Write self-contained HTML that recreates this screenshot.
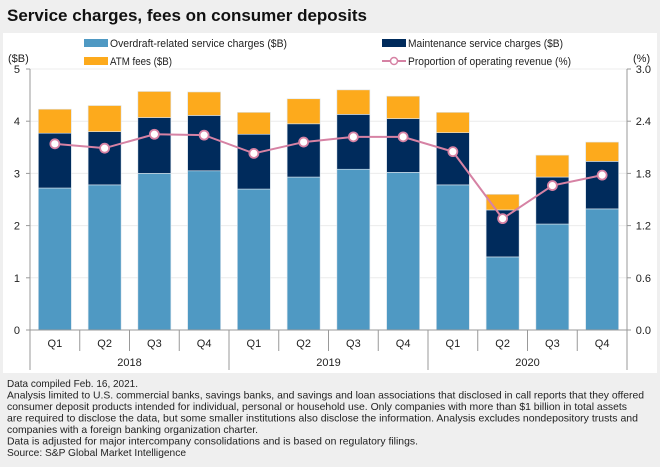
<!DOCTYPE html>
<html><head><meta charset="utf-8"><style>
html,body{margin:0;padding:0;background:#efefef;}
svg{display:block;font-family:"Liberation Sans",sans-serif;}
</style></head><body>
<svg id="chart" width="660" height="467" viewBox="0 0 660 467">
<rect x="0" y="0" width="660" height="467" fill="#efefef"/>
<text x="7" y="21" font-family="Liberation Sans, sans-serif" font-weight="bold" font-size="17" fill="#111">Service charges, fees on consumer deposits</text>
<rect x="3" y="33" width="654" height="340" fill="#fff"/>
<g font-size="11" fill="#222">
<rect x="84" y="39" width="24" height="8" fill="#4f99c3"/>
<text x="110" y="47" textLength="177" lengthAdjust="spacingAndGlyphs">Overdraft-related service charges ($B)</text>
<rect x="382" y="39" width="24" height="8" fill="#002b5c"/>
<text x="408" y="47" textLength="155" lengthAdjust="spacingAndGlyphs">Maintenance service charges ($B)</text>
<rect x="84" y="57" width="24" height="8" fill="#fdaa1c"/>
<text x="110" y="65" textLength="62" lengthAdjust="spacingAndGlyphs">ATM fees ($B)</text>
<line x1="382" y1="61" x2="406" y2="61" stroke="#d682a4" stroke-width="2"/>
<circle cx="394" cy="61" r="3.5" fill="#fff" stroke="#d682a4" stroke-width="1.5"/>
<text x="408" y="65" textLength="163" lengthAdjust="spacingAndGlyphs">Proportion of operating revenue (%)</text>
</g>
<text x="8" y="62" font-size="11" fill="#222">($B)</text>
<text x="633" y="62" font-size="11" fill="#222">(%)</text>
<g id="grid"></g><g id="bars"></g><g id="axes"></g><g id="line"></g>
<g font-size="10.5" fill="#222">
<text x="7" y="387" textLength="131" lengthAdjust="spacingAndGlyphs">Data compiled Feb. 16, 2021.</text>
<text x="7" y="398.5" textLength="637" lengthAdjust="spacingAndGlyphs">Analysis limited to U.S. commercial banks, savings banks, and savings and loan associations that disclosed in call reports that they offered</text>
<text x="7" y="410" textLength="620" lengthAdjust="spacingAndGlyphs">consumer deposit products intended for individual, personal or household use. Only companies with more than $1 billion in total assets</text>
<text x="7" y="421.5" textLength="631" lengthAdjust="spacingAndGlyphs">are required to disclose the data, but some smaller institutions also disclose the information. Analysis excludes nondepository trusts and</text>
<text x="7" y="433" textLength="251" lengthAdjust="spacingAndGlyphs">companies with a foreign banking organization charter.</text>
<text x="7" y="444.5" textLength="411" lengthAdjust="spacingAndGlyphs">Data is adjusted for major intercompany consolidations and is based on regulatory filings.</text>
<text x="7" y="456" textLength="179" lengthAdjust="spacingAndGlyphs">Source: S&amp;P Global Market Intelligence</text>
</g>
</svg>
<script>
const quarters=["Q1","Q2","Q3","Q4","Q1","Q2","Q3","Q4","Q1","Q2","Q3","Q4"];
const years=["2018","2019","2020"];
const overdraft=[2.72,2.78,3.0,3.05,2.7,2.93,3.08,3.02,2.78,1.4,2.03,2.32];
const maintenance=[1.05,1.02,1.07,1.06,1.05,1.02,1.05,1.03,1.0,0.9,0.9,0.91];
const atm=[0.46,0.5,0.5,0.45,0.42,0.48,0.47,0.43,0.39,0.3,0.42,0.37];
const proportion=[2.14,2.09,2.25,2.24,2.03,2.16,2.22,2.22,2.05,1.28,1.66,1.78];
const leftTicks=[0,1,2,3,4,5];
const rightTicks=["0.0","0.6","1.2","1.8","2.4","3.0"];
const NS="http://www.w3.org/2000/svg";
const X0=30,X1=627,Y0=330,Y1=69;
const bw=(X1-X0)/quarters.length;
function yL(v){return Y0-(v/5)*(Y0-Y1);}
function yR(v){return Y0-(v/3)*(Y0-Y1);}
function xC(i){return X0+bw*(i+0.5);}
function mk(tag,attrs,parent){const e=document.createElementNS(NS,tag);for(const k in attrs)e.setAttribute(k,attrs[k]);parent.appendChild(e);return e;}
const grid=document.getElementById('grid'),bars=document.getElementById('bars'),axes=document.getElementById('axes'),lineG=document.getElementById('line');
leftTicks.forEach((t,i)=>{
  const y=yL(t);
  if(t>0){const g=mk('line',{x1:X0,x2:X1,y1:y,y2:y,stroke:'#ececec','stroke-width':1},grid);
  
  }
  const tl=mk('text',{x:X0-10,y:y+4,'text-anchor':'end','font-size':11,fill:'#222'},axes);tl.textContent=t;
  
  
  const tk=mk('line',{x1:X0-4,x2:X0,y1:y,y2:y,stroke:'#999'},axes);
  
  
  const tr=mk('text',{x:X1+24,y:y+4,'text-anchor':'end','font-size':11,fill:'#222'},axes);tr.textContent=rightTicks[i];
  
  
  const tk2=mk('line',{x1:X1,x2:X1+4,y1:y,y2:y,stroke:'#999'},axes);
  
  
});
const ax1=mk('line',{x1:X0,x2:X0,y1:Y1,y2:Y0,stroke:'#999'},axes);


const ax2=mk('line',{x1:X1,x2:X1,y1:Y1,y2:Y0,stroke:'#999'},axes);


const ax3=mk('line',{x1:X0,x2:X1,y1:Y0,y2:Y0,stroke:'#999'},axes);


const barW=33;
quarters.forEach((q,i)=>{
  const x=xC(i)-barW/2;
  const s=[[overdraft[i],'#4f99c3','bar-overdraft'],[maintenance[i],'#002b5c','bar-maintenance'],[atm[i],'#fdaa1c','bar-atm']];
  let base=0;
  s.forEach(([v,c,n])=>{
    const r=mk('rect',{x:x,y:yL(base+v),width:barW,height:yL(base)-yL(base+v),fill:c,stroke:'#dde6ee','stroke-width':0.6},bars);
    
    
    base+=v;
  });
  const ql=mk('text',{x:xC(i),y:347,'text-anchor':'middle','font-size':11,fill:'#222'},axes);ql.textContent=q;
  
  
  const sep=mk('line',{x1:X0+bw*i,x2:X0+bw*i,y1:Y0,y2:(i%4===0)?370:351,stroke:'#999'},axes);
  
  
});
const last=mk('line',{x1:X1,x2:X1,y1:Y0,y2:370,stroke:'#999'},axes);


years.forEach((yv,j)=>{
  const t=mk('text',{x:X0+bw*(4*j+2),y:366,'text-anchor':'middle','font-size':11,fill:'#222'},axes);t.textContent=yv;
  
  
});
const pts=proportion.map((v,i)=>xC(i)+','+yR(v)).join(' ');
const pl=mk('polyline',{points:pts,fill:'none',stroke:'#d682a4','stroke-width':2},lineG);


proportion.forEach((v,i)=>{
  const c=mk('circle',{cx:xC(i),cy:yR(v),r:4.5,fill:'#fff',stroke:'#d682a4','stroke-width':1.8},lineG);
  
  
});
</script>
</body></html>
